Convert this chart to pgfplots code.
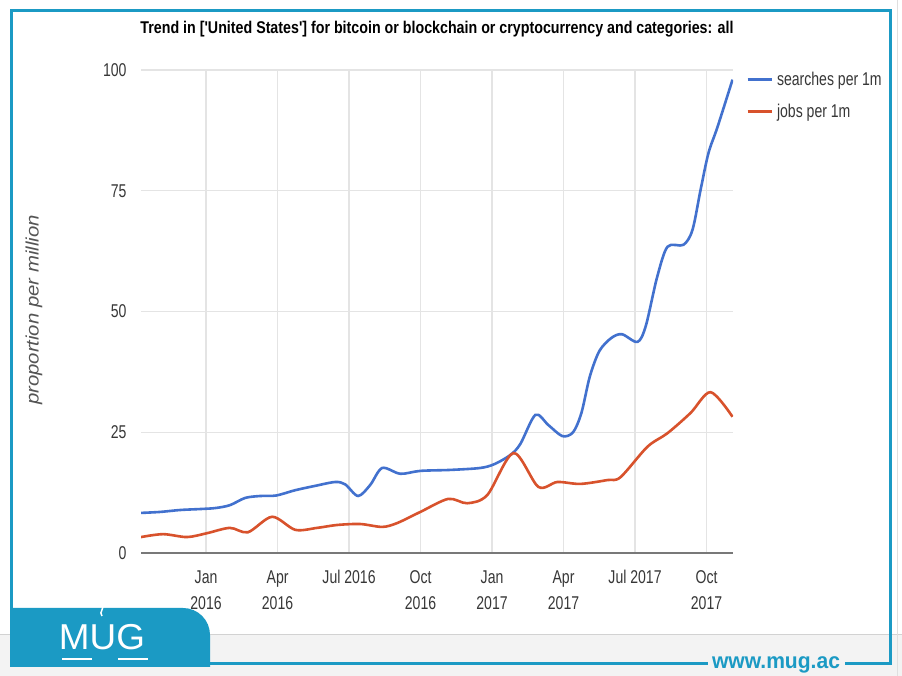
\documentclass[border=0pt]{standalone}
\usepackage{fontspec}
\setmainfont{Liberation Sans}
\newfontfamily\chartfont[FakeStretch=0.76]{Liberation Sans}
\usepackage{graphicx}
\usepackage{pgfplots}
\pgfplotsset{compat=1.18}
\definecolor{gblue}{RGB}{66,113,206}
\definecolor{gred}{RGB}{216,82,44}
\definecolor{frameblue}{RGB}{27,154,196}
\definecolor{gridgray}{RGB}{228,228,228}
\definecolor{labgray}{RGB}{55,55,55}
\definecolor{axisgray}{RGB}{120,120,120}
\definecolor{bandgray}{RGB}{243,243,243}
\definecolor{ylabgray}{RGB}{85,85,85}

\pgfplotstableread{
m v
-2.73 8.3
-1.93 8.5
-1.09 8.9
-0.25 9.1
0.38 9.3
1.00 9.9
1.64 11.4
2.27 11.8
2.94 11.9
3.74 13.0
4.58 13.9
5.42 14.7
5.84 14.2
6.38 11.8
6.89 14.1
7.39 17.6
8.15 16.4
8.99 17.0
10.25 17.2
11.50 17.6
12.10 18.4
12.77 20.3
13.19 22.6
13.82 28.6
14.36 26.5
14.95 24.2
15.40 25.0
15.75 29.0
16.10 36.5
16.50 41.8
17.00 44.5
17.45 45.3
18.10 43.7
18.45 47.0
18.92 57.0
19.36 63.4
20.03 63.8
20.41 66.9
20.75 75.2
21.08 82.8
21.46 88.2
22.09 98.0
}\searches

\pgfplotstableread{
m v
-2.73 3.3
-1.80 3.9
-0.80 3.3
0.04 4.1
1.00 5.2
1.76 4.3
2.77 7.5
3.74 4.8
4.66 5.2
5.50 5.8
6.47 6.0
7.39 5.4
8.02 6.2
8.99 8.5
10.16 11.2
10.96 10.3
11.80 12.0
12.90 20.7
13.94 13.7
14.74 14.7
15.70 14.3
16.84 15.1
17.39 15.7
18.52 22.0
19.36 24.8
20.33 29.0
21.17 33.3
22.09 28.2
}\jobs

\begin{document}
\begin{tikzpicture}[x=1pt,y=1pt]
\useasboundingbox (0,0) rectangle (902,676);
\fill[white] (0,0) rectangle (902,676);
\fill[bandgray] (0,0) rectangle (902,42);
\draw[gray!35, line width=0.8pt] (0,42) -- (902,42);
\draw[gray!25, line width=0.8pt] (897,0) -- (897,676);

% title
\node[anchor=base, inner sep=0pt] at (437,642)
  {\resizebox{593pt}{\height}{\bfseries\fontsize{17}{20}\selectfont Trend in [\textquotesingle United States\textquotesingle] for bitcoin or blockchain or cryptocurrency and categories: all}};

% y label
\node[rotate=90, inner sep=0pt, text=ylabgray] at (34,366)
  {\resizebox{190pt}{\height}{\itshape\fontsize{18}{20}\selectfont proportion per million}};

\begin{axis}[
  at={(141pt,123pt)}, anchor=south west,
  scale only axis, width=592pt, height=483pt,
  xmin=-2.73, xmax=22.11, ymin=0, ymax=100,
  axis x line=bottom, axis y line=left,
  x axis line style={-, draw=axisgray, line width=2.2pt},
  y axis line style={draw=none},
  xtick={0,3,6,9,12,15,18,21},
  xticklabels={Jan\\2016, Apr\\2016, Jul 2016, Oct\\2016, Jan\\2017, Apr\\2017, Jul 2017, Oct\\2017},
  ytick={0,25,50,75,100},
  major tick length=0pt,
  grid=major,
  grid style={draw=gridgray, line width=1.2pt},
  /pgf/number format/assume math mode=true,
  xticklabel style={font=\chartfont\fontsize{18.5}{26}\selectfont, text=labgray, align=center, yshift=-14pt},
  yticklabel style={font=\chartfont\fontsize{18.5}{20}\selectfont, text=labgray, xshift=-11pt},
  legend style={at={(1,1)}, anchor=north west, xshift=10pt, yshift=2pt, draw=none, fill=none,
    font=\chartfont\fontsize{18.5}{20}\selectfont, text=labgray, row sep=13pt,
    nodes={inner xsep=4pt}},
  legend cell align=left,
  legend image code/.code={\draw[#1, line width=2.8pt] (0pt,0pt) -- (24pt,0pt);},
]
\addplot[gblue, line width=2.6pt, smooth, tension=0.5] table[x=m, y=v] {\searches};
\addlegendentry{searches per 1m}
\addplot[gred, line width=2.6pt, smooth, tension=0.5] table[x=m, y=v] {\jobs};
\addlegendentry{jobs per 1m}
\end{axis}

% frame
\draw[frameblue, line width=3pt] (11,12) -- (11,665) -- (890,665) -- (890,12) -- (845,12);
\draw[frameblue, line width=3pt] (11,12) -- (708,12);
\node[anchor=base, inner sep=0pt, text=frameblue] at (776,7)
  {\resizebox{128pt}{\height}{\bfseries\fontsize{22}{24}\selectfont www.mug.ac}};
% logo tab
\fill[frameblue] (10,9) -- (10,68) -- (183,68) arc[start angle=90, end angle=0, radius=27] -- (210,9) -- cycle;
\node[anchor=base, inner sep=0pt, text=white] at (102,26)
  {\resizebox{86pt}{\height}{\fontsize{36}{36}\selectfont MUG}};
\draw[white, line width=2pt] (62,17) -- (92,17);
\draw[white, line width=2pt] (118,17) -- (148,17);
\draw[white, line width=1.5pt] (102,60) .. controls (98,64) and (106,68) .. (102,74);
\end{tikzpicture}
\end{document}
